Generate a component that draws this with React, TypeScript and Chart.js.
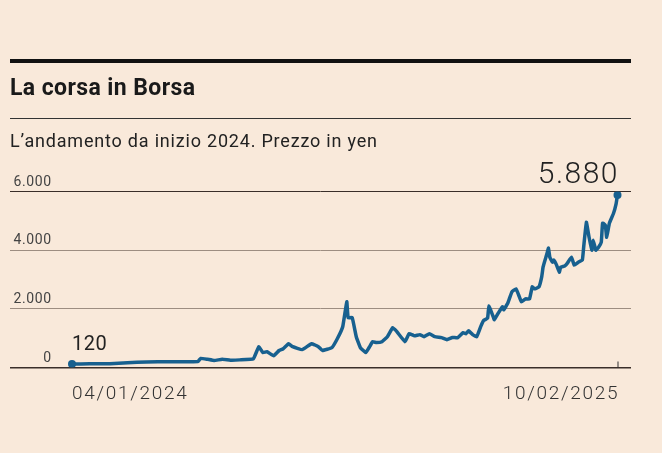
import React, { useEffect, useRef } from "react";
import { Chart, registerables } from "chart.js";

Chart.register(...registerables);

// Dates (day offsets from 04/01/2024) and prices in yen
const START_LABEL = "04/01/2024";
const END_LABEL = "10/02/2025";
const TOTAL_DAYS = 403;

const days: number[] = [
  0, 13, 28, 41, 55, 72, 93, 95, 100, 105, 111, 117, 124, 134, 138, 141, 144, 149, 153, 156,
  160, 163, 170, 177, 182, 185, 192, 196, 200, 203, 204, 207, 210, 213, 217, 220, 222, 225, 229, 233,
  237, 240, 246, 249, 253, 257, 260, 264, 268, 273, 277, 281, 285, 289, 291, 293, 296, 299, 302, 304,
  307, 308, 311, 312, 315, 318, 319, 322, 325, 328, 330, 332, 335, 338, 340, 341, 342, 345, 347, 348,
  349, 351, 352, 353, 355, 356, 358, 360, 361, 364, 366, 369, 371, 374, 377, 378, 380, 382, 384, 385,
  387, 389, 391, 392, 394, 395, 397, 400, 402, 403,
];

const prices: number[] = [
  120, 125, 130, 160, 190, 195, 200, 310, 280, 240, 280, 250, 260, 300, 710, 510, 540, 400, 580, 640,
  810, 710, 610, 810, 710, 580, 680, 980, 1390, 2240, 1700, 1700, 1050, 680, 510, 720, 880, 850, 880, 1050,
  1360, 1220, 880, 1150, 1080, 1120, 1050, 1150, 1050, 1020, 950, 1020, 1020, 1190, 1150, 1250, 1120, 1050, 1400, 1600,
  1680, 2100, 1750, 1630, 1860, 2070, 1970, 2200, 2580, 2680, 2470, 2240, 2340, 2340, 2750, 2710, 2680, 2750, 3090, 3420,
  3590, 3900, 4070, 3760, 3590, 3660, 3490, 3250, 3420, 3460, 3560, 3760, 3490, 3590, 3660, 4100, 4950, 4440, 4000, 4340,
  4000, 4100, 4270, 4920, 4850, 4440, 4920, 5250, 5590, 5880,
];

const yTicks: number[] = [0, 2000, 4000, 6000];
const yTickLabels: string[] = ["0", "2.000", "4.000", "6.000"];
const firstLabel = "120";
const lastLabel = "5.880";

const BG = "#f9e9da";
const LINE = "#17608f";
const FONT = "Roboto, 'Noto Sans', sans-serif";

function textAt(ctx: any, s: string, x: number, y: number, align: "left" | "right", spacing: number) {
  ctx.letterSpacing = spacing + "px";
  ctx.textAlign = "left";
  if (align === "right") {
    const w = ctx.measureText(s).width - spacing;
    ctx.fillText(s, x - w, y);
  } else {
    ctx.fillText(s, x, y);
  }
  ctx.letterSpacing = "0px";
}

const textPlugin = {
  id: "texts",
  beforeDraw(chart: any) {
    const { ctx } = chart;
    ctx.save();
    ctx.fillStyle = BG;
    ctx.fillRect(0, 0, chart.width, chart.height);
    // top thick rule
    ctx.fillStyle = "#111";
    ctx.fillRect(10, 59, 621, 4);
    // thin rule
    ctx.fillStyle = "#333";
    ctx.fillRect(10, 118, 621, 1);
    // title
    ctx.fillStyle = "#1a1a1a";
    ctx.textBaseline = "alphabetic";
    ctx.font = `bold 23px ${FONT}`;
    textAt(ctx, "La corsa in Borsa", 10, 95, "left", 0.4);
    ctx.font = `18px ${FONT}`;
    ctx.fillStyle = "#222";
    textAt(ctx, "L\u2019andamento da inizio 2024. Prezzo in yen", 10, 147, "left", 0.8);
    ctx.restore();
  },
  afterDraw(chart: any) {
    const { ctx } = chart;
    const x = chart.scales.x;
    const y = chart.scales.y;
    ctx.save();
    ctx.textBaseline = "alphabetic";
    // y tick labels
    ctx.font = `14px ${FONT}`;
    ctx.fillStyle = "#444";
    yTicks.forEach((v, i) => {
      textAt(ctx, yTickLabels[i], 51, y.getPixelForValue(v) - 6, "right", 0.6);
    });
    // x labels
    ctx.font = `300 19px ${FONT}`;
    ctx.fillStyle = "#333";
    const x0 = x.getPixelForValue(days[0]);
    const x1 = x.getPixelForValue(days[days.length - 1]);
    textAt(ctx, START_LABEL, x0, 399, "left", 1.7);
    textAt(ctx, END_LABEL, x1, 399, "right", 1.7);
    // end tick
    ctx.fillStyle = "#333";
    ctx.fillRect(Math.round(x1) - 0.5, y.getPixelForValue(0) - 6, 1, 6);
    // annotations
    ctx.fillStyle = "#222";
    ctx.font = `20px ${FONT}`;
    textAt(ctx, firstLabel, x0, y.getPixelForValue(prices[0]) - 14, "left", 0.5);
    ctx.font = `300 30px ${FONT}`;
    textAt(ctx, lastLabel, x1, 183, "right", 1.5);
    ctx.restore();
  },
};

export default function App() {
  const ref = useRef<HTMLCanvasElement>(null);
  useEffect(() => {
    if (!ref.current) return;
    const last = prices.length - 1;
    const chart = new Chart(ref.current, {
      type: "line",
      data: {
        datasets: [
          {
            data: days.map((d, i) => ({ x: d, y: prices[i] })),
            borderColor: LINE,
            backgroundColor: LINE,
            borderWidth: 3.5,
            tension: 0.1,
            borderJoinStyle: "round",
            borderCapStyle: "round",
            pointRadius: (c: any) => (c.dataIndex === 0 || c.dataIndex === last ? 4 : 0),
            pointBorderWidth: 0,
            pointBackgroundColor: LINE,
          },
        ],
      },
      options: {
        responsive: false,
        animation: false,
        devicePixelRatio: 1,
        layout: { padding: { left: 10, right: 31, top: 191.5, bottom: 85.5 } },
        plugins: { legend: { display: false }, tooltip: { enabled: false } },
        scales: {
          x: {
            type: "linear",
            min: -62 * (TOTAL_DAYS / 545.5),
            max: TOTAL_DAYS + 13.5 * (TOTAL_DAYS / 545.5),
            display: false,
          },
          y: {
            min: 0,
            max: 6000,
            border: { display: false },
            ticks: { display: false, stepSize: 2000 },
            grid: {
              drawTicks: false,
              color: (c: any) => (c.tick && (c.tick.value === 0 || c.tick.value === 6000) ? "#3a2e29" : "#9d8d81"),
              lineWidth: (c: any) => (c.tick && c.tick.value === 0 ? 1.5 : 1),
            },
          },
        },
      } as any,
      plugins: [textPlugin],
    });
    return () => chart.destroy();
  }, []);
  return (
    <div style={{ position: "fixed", left: 0, top: 0, width: 662, height: 453, background: BG }}>
      <canvas ref={ref} width={662} height={453} style={{ width: 662, height: 453 }} />
    </div>
  );
}
